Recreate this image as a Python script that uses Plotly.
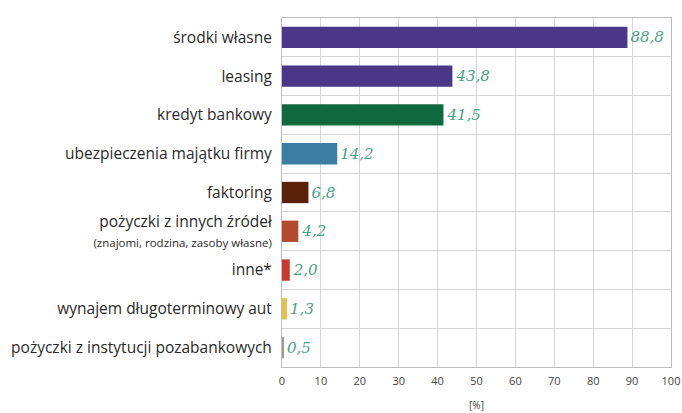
import plotly.graph_objects as go

categories = [
    "środki własne",
    "leasing",
    "kredyt bankowy",
    "ubezpieczenia majątku firmy",
    "faktoring",
    "pożyczki z innych źródeł<br><span style='font-size:11.5px'>(znajomi, rodzina, zasoby własne)</span>",
    "inne*",
    "wynajem długoterminowy aut",
    "pożyczki z instytucji pozabankowych",
]
values = [88.8, 43.8, 41.5, 14.2, 6.8, 4.2, 2.0, 1.3, 0.5]
value_labels = ["88,8", "43,8", "41,5", "14,2", "6,8", "4,2", "2,0", "1,3", "0,5"]
colors = ["#4a3787", "#4a3787", "#0e6a3e", "#3b7da3", "#5a2008",
          "#b24a2e", "#c93a2e", "#e2c04a", "#9a9a9a"]
x_ticks = list(range(0, 101, 10))

fig = go.Figure(go.Bar(
    x=values, y=categories, orientation="h",
    marker=dict(color=colors, line=dict(width=0)),
    text=value_labels, textposition="outside", cliponaxis=False,
    textfont=dict(family="DejaVu Serif", size=15, color="#45a386", style="italic"),
    width=0.55,
))

fig.update_layout(
    width=682, height=413,
    margin=dict(l=282, r=11, t=18, b=46, autoexpand=False),
    paper_bgcolor="white", plot_bgcolor="white",
    font=dict(family="Open Sans", color="#2a2a2a"),
    showlegend=False,
    xaxis=dict(range=[0, 100], tickvals=x_ticks, showgrid=True,
               gridcolor="#d6d6d6", gridwidth=1, zeroline=False, showline=True,
               linecolor="#bdbdbd", mirror=True, ticklabeloverflow="allow",
               tickfont=dict(size=11, color="#444"), ticks="", automargin=False,
               ticklabelstandoff=4,
               title=dict(text="[%]", font=dict(size=10, color="#444"), standoff=14)),
    yaxis=dict(autorange="reversed", showgrid=True, gridcolor="#d6d6d6", tickson="boundaries",
               showline=True, linecolor="#bdbdbd", mirror=True, ticks="", automargin=False,
               tickfont=dict(size=15.5, color="#2a2a2a"), ticklabelstandoff=6),
)

fig.write_html("out.html")
